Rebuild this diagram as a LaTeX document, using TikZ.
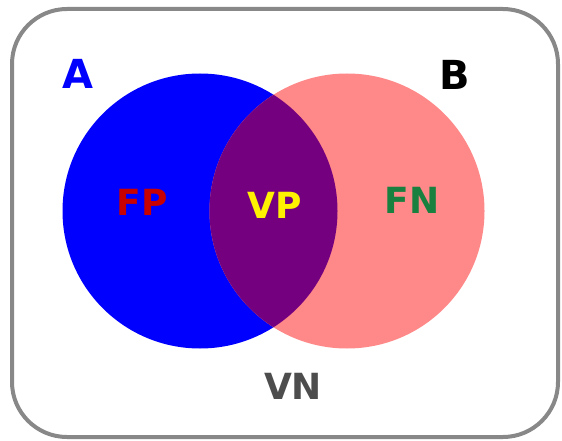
\documentclass[tikz,border=0pt]{standalone}
\usepackage{fontspec}
\setmainfont{DejaVu Sans}
\definecolor{setA}{HTML}{0000FF}
\definecolor{setB}{HTML}{FF8888}
\definecolor{both}{HTML}{740080}
\definecolor{frame}{HTML}{888888}
\definecolor{fpred}{HTML}{C80000}
\definecolor{fngreen}{HTML}{1A8040}
\definecolor{vngray}{HTML}{4D4D4D}
\tikzset{
  lbl/.style={font=\fontsize{36}{36}\selectfont\bfseries, inner sep=0pt, anchor=center},
  setname/.style={font=\fontsize{40}{40}\selectfont\bfseries, inner sep=0pt, anchor=center},
}
\begin{document}
\begin{tikzpicture}[x=1pt,y=-1pt]
  \useasboundingbox (0,0) rectangle (562,441);
  % universe
  \draw[frame, line width=4pt, rounded corners=55pt] (12,9) rectangle (558,437);
  % the two sets
  \fill[setA] (200,211) circle (137.5);
  \fill[setB] (347,211) circle (137.5);
  \begin{scope}
    \clip (200,211) circle (137.5);
    \fill[both] (347,211) circle (137.5);
  \end{scope}
  % labels
  \node[setname, text=setA] (a) at (78,74) {A};
  \node[setname, text=black] (b) at (455,75) {B};
  \node[lbl, text=fpred] (fp) at (142,202) {FP};
  \node[lbl, text=yellow] (vp) at (275,205) {VP};
  \node[lbl, text=fngreen] (fn) at (412,200) {FN};
  \node[lbl, text=vngray] (vn) at (293,386) {VN};
\end{tikzpicture}
\end{document}
